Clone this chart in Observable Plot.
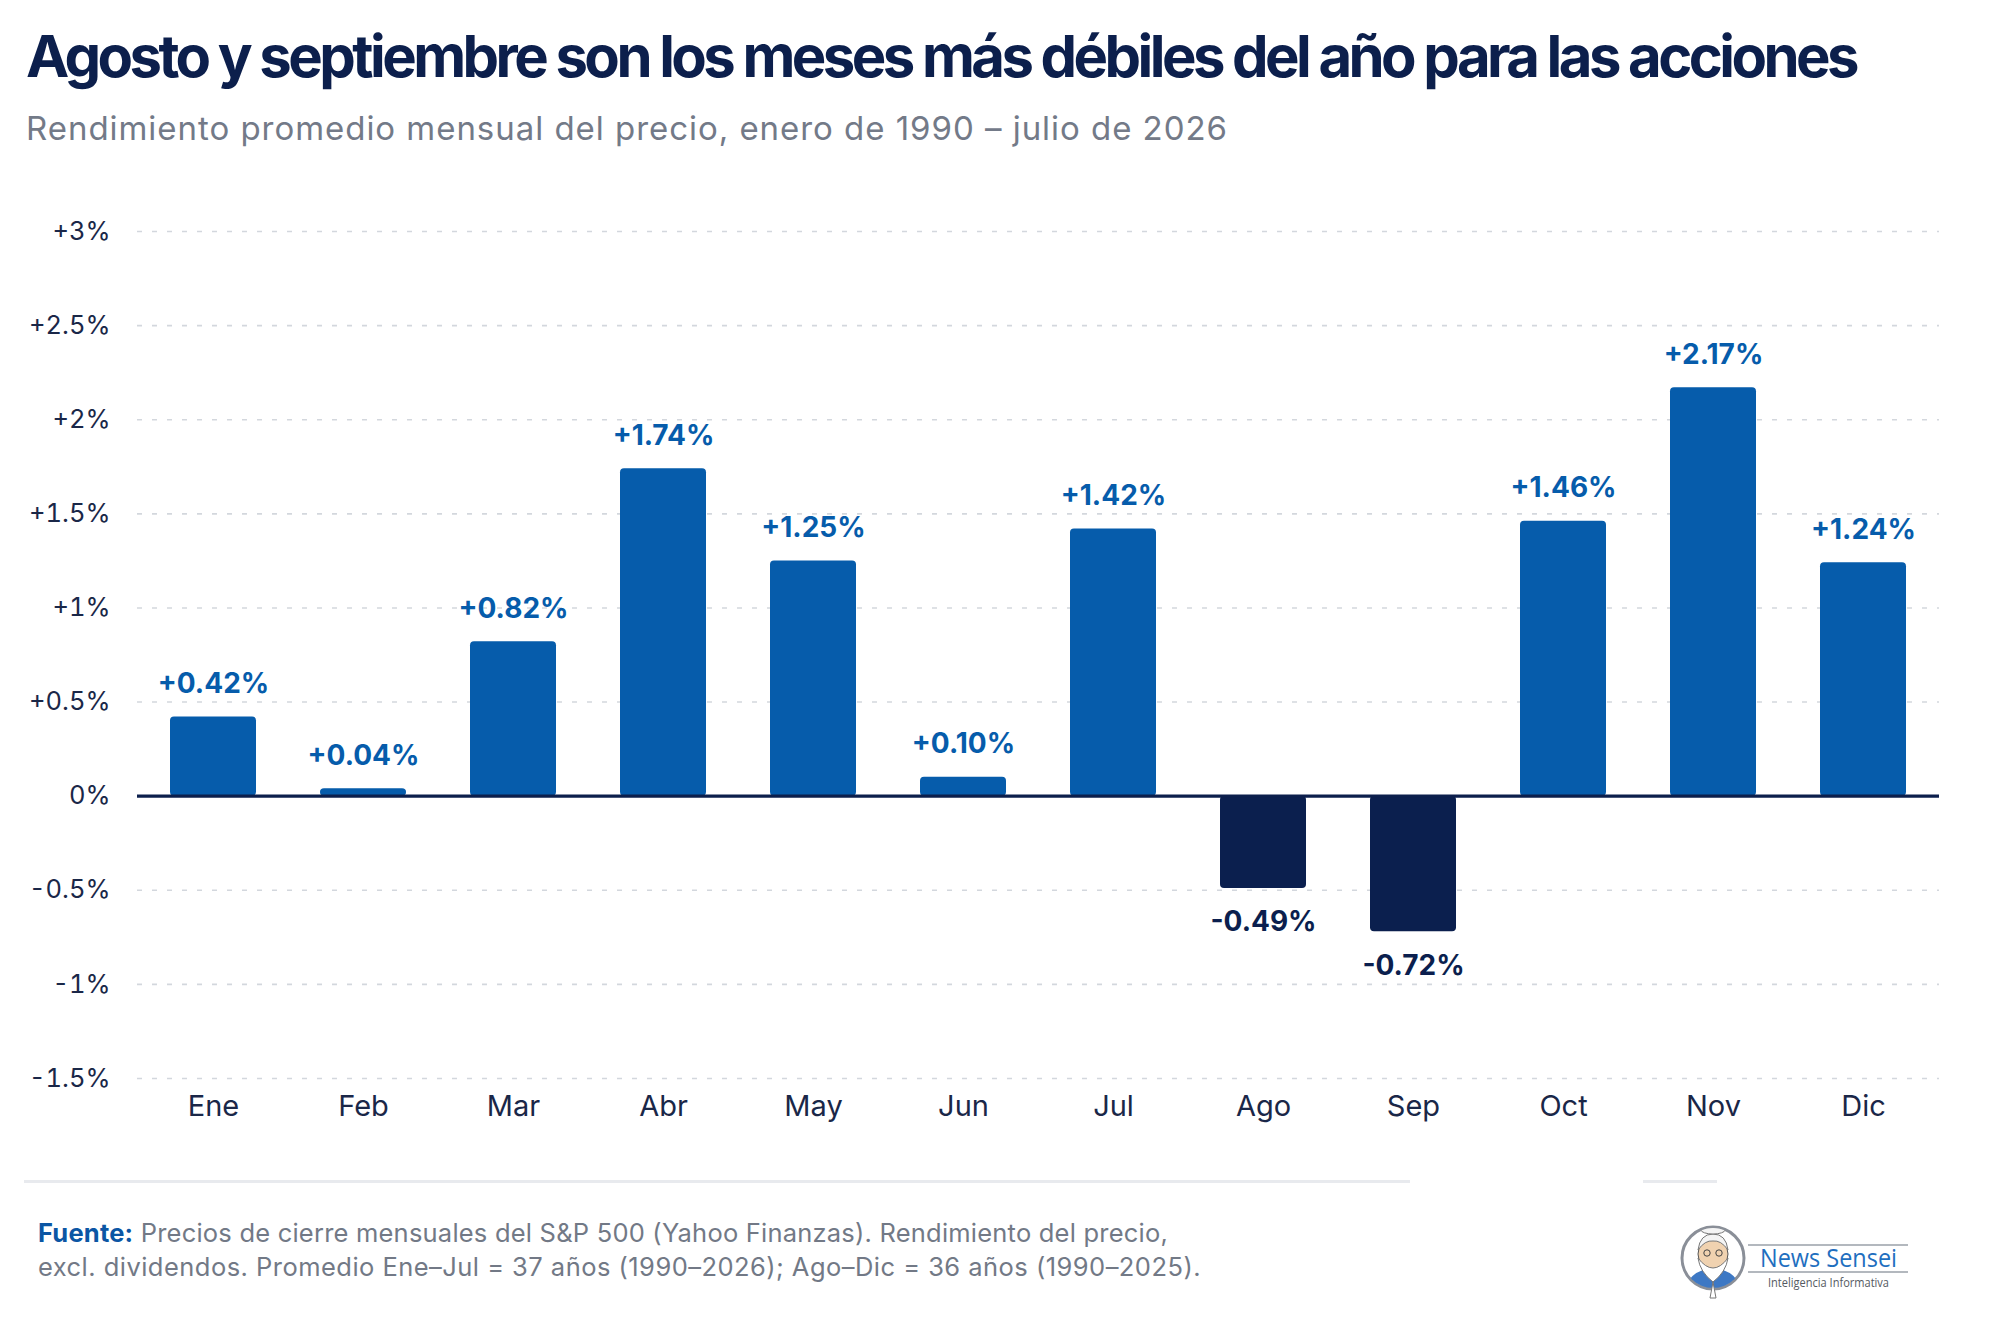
<!DOCTYPE html>
<html>
<head>
<meta charset="utf-8">
<script src="https://cdn.jsdelivr.net/npm/d3@7"></script>
<script src="https://cdn.jsdelivr.net/npm/@observablehq/plot@0.6"></script>
<style>
  html, body { margin: 0; padding: 0; background: #ffffff; }
  #page { position: relative; width: 2000px; height: 1318px; overflow: hidden; background: #ffffff; font-family: Inter, "Noto Sans", sans-serif; }
  .txt { position: absolute; white-space: nowrap; line-height: 1; }
  #title { left: 26px; font-size: 58px; font-weight: 700; color: #0c1f4c; }
  #subtitle { left: 26px; font-size: 33px; font-weight: 400; color: #737a88; }
  #chart { position: absolute; left: 0; top: 160px; }
  .foot { left: 38px; font-size: 25.5px; color: #727986; }
  .foot b { color: #0b56a4; font-weight: 700; }
  .sep { position: absolute; height: 3px; background: #e8eaee; top: 1180px; }
  #logo { position: absolute; left: 1676px; top: 1220px; }
</style>
</head>
<body>
<div id="page">
  <div id="title" class="txt">Agosto y septiembre son los meses más débiles del año para las acciones</div>
  <div id="subtitle" class="txt">Rendimiento promedio mensual del precio, enero de 1990 – julio de 2026</div>
  <div id="chart"></div>
  <div class="sep" style="left:24px;width:1386px"></div>
  <div class="sep" style="left:1643px;width:74px"></div>
  <div id="foot1" class="txt foot"><b>Fuente:</b> Precios de cierre mensuales del S&amp;P 500 (Yahoo Finanzas). Rendimiento del precio,</div>
  <div id="foot2" class="txt foot">excl. dividendos. Promedio Ene–Jul = 37 años (1990–2026); Ago–Dic = 36 años (1990–2025).</div>
  <svg id="logo" width="250" height="95" viewBox="0 0 250 95">
    <defs>
      <clipPath id="cc"><circle cx="37" cy="38" r="30"/></clipPath>
    </defs>
    <circle cx="37" cy="38" r="31" fill="#ffffff" stroke="#8a8f98" stroke-width="3"/>
    <g clip-path="url(#cc)">
      <path d="M8 70 Q14 50 37 48 Q60 50 66 70 Z" fill="#3d78c4"/>
      <ellipse cx="37" cy="34" rx="15" ry="16" fill="#f0d2b0" stroke="#555" stroke-width="1"/>
      <path d="M22 38 Q37 58 52 38 Q50 52 37 62 Q24 52 22 38 Z" fill="#ffffff" stroke="#777" stroke-width="1"/>
      <path d="M22 30 Q24 14 37 14 Q50 14 52 30 Q45 20 37 21 Q29 20 22 30 Z" fill="#f4f4f4" stroke="#777" stroke-width="1"/>
      <ellipse cx="37" cy="10" rx="12" ry="4" fill="#f4f4f4" stroke="#777" stroke-width="1"/>
      <circle cx="31" cy="33" r="3.2" fill="none" stroke="#444" stroke-width="1"/>
      <circle cx="43" cy="33" r="3.2" fill="none" stroke="#444" stroke-width="1"/>
    </g>
    <path d="M37 62 L40 78 L34 78 Z" fill="#ffffff" stroke="#777" stroke-width="1"/>
    <line x1="72" y1="25" x2="232" y2="25" stroke="#9aa0a8" stroke-width="1.5"/>
    <line x1="72" y1="52" x2="232" y2="52" stroke="#9aa0a8" stroke-width="1.5"/>
    <text x="84" y="47" font-family="'Open Sans', Inter, sans-serif" font-size="26" fill="#1f6fbf" textLength="137" lengthAdjust="spacingAndGlyphs">News Sensei</text>
    <text x="92" y="67" font-family="'Open Sans', Inter, sans-serif" font-size="12.5" fill="#555a62" textLength="121" lengthAdjust="spacingAndGlyphs">Inteligencia Informativa</text>
  </svg>
</div>
<script>
// ---- data ----
const months = ["Ene", "Feb", "Mar", "Abr", "May", "Jun", "Jul", "Ago", "Sep", "Oct", "Nov", "Dic"];
const values = [0.42, 0.04, 0.82, 1.74, 1.25, 0.10, 1.42, -0.49, -0.72, 1.46, 2.17, 1.24];
const yTicks = [-1.5, -1, -0.5, 0, 0.5, 1, 1.5, 2, 2.5, 3];

const posColor = "#065cab";
const negColor = "#0b1f4e";
const navy = "#1a2748";

const data = months.map((m, i) => ({month: m, value: values[i]}));
const fmtVal = v => (v > 0 ? "+" : "") + v.toFixed(2) + "%";
const fmtTick = d => (d > 0 ? "+" : "") + d + "%";

const chart = Plot.plot({
  width: 2000,
  height: 988,
  marginTop: 71,
  marginBottom: 70,
  marginLeft: 137,
  marginRight: 61,
  style: {fontFamily: "Inter, 'Noto Sans', sans-serif", background: "transparent", overflow: "visible"},
  x: {domain: months, paddingInner: 0.43, paddingOuter: 0.215, label: null},
  y: {domain: [-1.5, 3], label: null},
  marks: [
    Plot.ruleY(yTicks.filter(d => d !== 0), {stroke: "#d3d7dd", strokeWidth: 1.6, strokeDasharray: "5,10"}),
    Plot.barY(data.filter(d => d.value >= 0), {x: "month", y: "value", fill: posColor, rx: 4}),
    Plot.barY(data.filter(d => d.value < 0), {x: "month", y: "value", fill: negColor, rx: 4}),
    Plot.ruleY([0], {stroke: "#0c1f4c", strokeWidth: 3.2}),
    Plot.text(data.filter(d => d.value >= 0), {x: "month", y: "value", text: d => fmtVal(d.value), dy: -33, fill: posColor, fontSize: 28, fontWeight: 700}),
    Plot.text(data.filter(d => d.value < 0), {x: "month", y: "value", text: d => fmtVal(d.value), dy: 34, fill: negColor, fontSize: 28, fontWeight: 700}),
    Plot.axisX({tickSize: 0, tickPadding: 17, fontSize: 29, color: navy, label: null}),
    Plot.axisY({ticks: yTicks, tickSize: 0, tickPadding: 27, tickFormat: fmtTick, fontSize: 25.5, color: navy, label: null})
  ]
});
document.getElementById("chart").appendChild(chart);

// ---- text placement (baseline based) ----
function place(id, baseline, target) {
  const el = document.getElementById(id);
  const fs = parseFloat(getComputedStyle(el).fontSize);
  el.style.top = (baseline - 0.864 * fs) + "px";
  if (target) {
    const w = el.getBoundingClientRect().width;
    const n = el.textContent.length;
    el.style.letterSpacing = ((target - w) / n) + "px";
  }
}
place("title", 77, 1830);
place("subtitle", 141, 1202);
place("foot1", 1242, 1130);
place("foot2", 1276, 1163);
</script>
</body>
</html>
